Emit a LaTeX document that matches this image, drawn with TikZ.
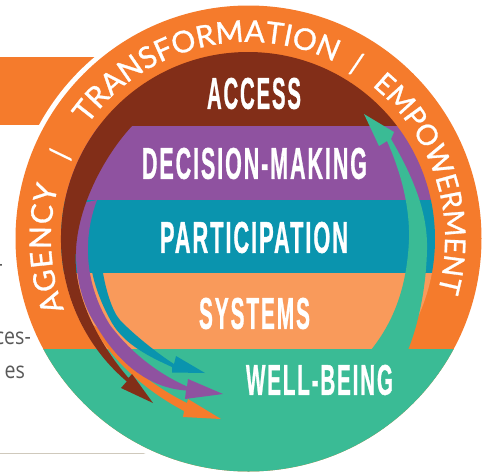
\documentclass[tikz,border=0pt]{standalone}
\usepackage{fontspec}
\usetikzlibrary{decorations.text}
\newfontfamily\ringfont{Lato}[FakeBold=1]
\newfontfamily\bandfont{Liberation Sans}[LetterSpace=9,FakeBold=1.2]
\newfontfamily\bodyfont{Open Sans}
\definecolor{cOrange}{HTML}{F57B2C}
\definecolor{cBrown}{HTML}{822E18}
\definecolor{cPurple}{HTML}{8F52A0}
\definecolor{cTeal}{HTML}{0A94AE}
\definecolor{cLight}{HTML}{F99A5B}
\definecolor{cGreen}{HTML}{3ABB95}
\definecolor{cRule}{HTML}{CFC9BC}
\newcommand{\bandtext}[3]{\resizebox{#1pt}{#2pt}{\bandfont\bfseries #3}}
\newcommand{\ringstyle}{\ringfont\fontsize{30}{30}\selectfont\color{white}}
\newcommand{\ringsmall}{\ringfont\fontsize{28.5}{29}\selectfont\color{white}}
\tikzset{
  bandlabel/.style={inner sep=0pt,text=white,anchor=center},
  ringword/.style={decorate,decoration={text along path,text align={fit to path},text={|\ringstyle|#1}}},
  ringwordsmall/.style={decorate,decoration={text along path,text align={fit to path},text={|\ringsmall|#1}}},
  ringslash/.style={inner sep=0pt,text=white,font=\ringfont\fontsize{29}{29}\selectfont,rotate=#1},
  bodytext/.style={inner sep=0pt,text=black!65,font=\bodyfont\fontsize{23}{23}\selectfont,anchor=base east,xscale=.85}
}
\begin{document}
\begin{tikzpicture}[x=1pt,y=-1pt]
\useasboundingbox (0,0) rectangle (488,472);
% background page pieces
\fill[cOrange] (0,57) rectangle (120,125);
\draw[cRule,line width=1pt] (0,453) -- (150,453);
\node[bodytext] (t1) at (3,271) {-};
\node[bodytext] (t2) at (31,344) {ces-};
\node[bodytext] (t3) at (25,378) {es};
\fill[white] (248,239) circle[radius=238pt];
% outer disc
\fill[cOrange] (248.5,238.5) circle[radius=233pt];
% inner disc bands
\begin{scope}
\clip (248,239) circle[radius=187pt];
\fill[cBrown] (0,0) rectangle (488,126);
\fill[cPurple] (0,126) rectangle (488,200);
\fill[cTeal] (0,200) rectangle (488,273);
\fill[cLight] (0,273) rectangle (488,349);
\end{scope}
% well-being segment
\begin{scope}
\clip (248.5,238.5) circle[radius=233pt];
\fill[cGreen] (0,349) rectangle (488,472);
\end{scope}
% teal arrow
\fill[cTeal] (97,200) .. controls (87,230) and (82,270) .. (112,323)
  .. controls (125,345) and (150,357) .. (172,367)
  -- (172,372.5) -- (205,373) -- (176,356) -- (174,364)
  .. controls (158,354) and (132,333) .. (120,320)
  .. controls (112,311) and (106,290) .. (103,273) -- cycle;
% orange arrow
\fill[cOrange] (93,325) .. controls (105,350) and (135,385) .. (184,411)
  -- (183,417) -- (221,419) -- (188,399) -- (187,403)
  .. controls (150,385) and (115,355) .. (97,327) -- cycle;
% purple arrow
\fill[cPurple] (83,203) .. controls (72,240) and (72,290) .. (97,327)
  .. controls (120,365) and (150,388) .. (186,390.5)
  -- (185,399) -- (223,394) -- (188,379) -- (187,386.5)
  .. controls (150,370) and (125,345) .. (110,325)
  .. controls (85,285) and (82,240) .. (97,200) -- cycle;
% brown arrow
\fill[cBrown] (132,126) -- (99,126) arc[start angle=142.8,end angle=229.6,radius=187pt]
  -- (121,388) -- (153,403) -- (132,374) -- (128.5,378)
  .. controls (100,345) and (72,295) .. (76,250)
  .. controls (78,205) and (105,155) .. (132,126) -- cycle;
% green arrow
\fill[cGreen] (364,114) -- (394,132) -- (391,139)
  .. controls (415,180) and (428,215) .. (427,250)
  .. controls (426,290) and (418,325) .. (408,350)
  -- (371,350)
  .. controls (395,320) and (407,285) .. (409,240)
  .. controls (410,205) and (400,170) .. (387,141)
  -- (379,146) -- cycle;
% band labels
\node[bandlabel] (access) at (254,93.5) {\bandtext{94}{31}{ACCESS}};
\node[bandlabel] (decision) at (254.5,163.5) {\bandtext{225}{31}{DECISION-MAKING}};
\node[bandlabel] (participation) at (254,237.5) {\bandtext{188}{31}{PARTICIPATION}};
\node[bandlabel] (systems) at (254.5,313.5) {\bandtext{111}{31}{SYSTEMS}};
\node[bandlabel] (wellbeing) at (319.5,380) {\bandtext{147}{30}{WELL-BEING}};
% ring words
\path[ringword={AGENCY}] (248,239) ++(201:197pt) arc[start angle=201,end angle=164.5,radius=197pt];
\node[ringslash=86] (slash1) at (60.5,154.5) {/};
\path[ringword={TRANSFORMATION}] (248,239) ++(144.5:197pt) arc[start angle=144.5,end angle=64.5,radius=197pt];
\node[ringslash=-12] (slash2) at (356.5,64) {/};
\path[ringwordsmall={EMPOWERMENT}] (248,239) ++(51:197pt) arc[start angle=51,end angle=-15.5,radius=197pt];
\end{tikzpicture}
\end{document}
